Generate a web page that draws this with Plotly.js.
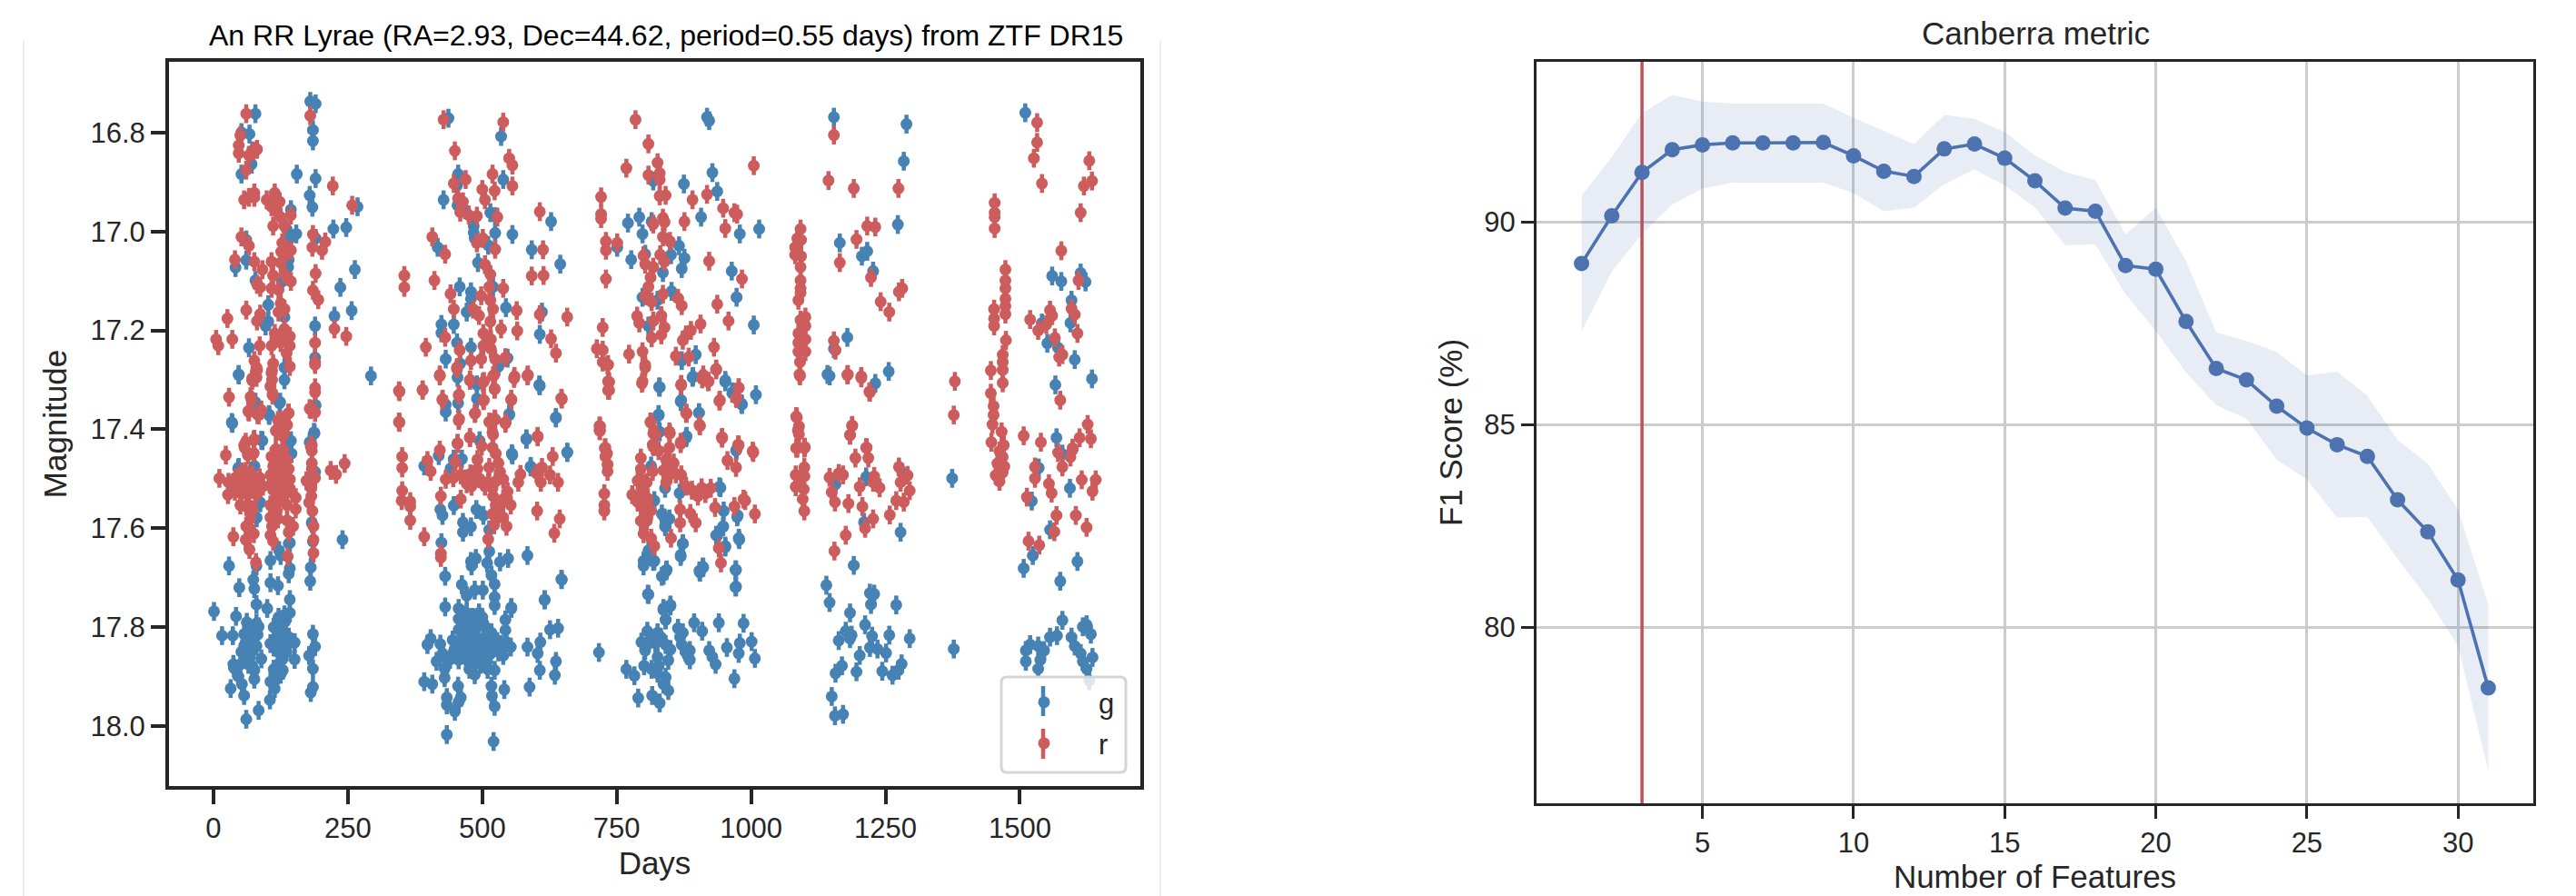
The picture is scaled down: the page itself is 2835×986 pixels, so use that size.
<!DOCTYPE html>
<html><head><meta charset="utf-8">
<script src="https://cdn.plot.ly/plotly-3.0.1.min.js"></script>
<style>html,body{margin:0;padding:0;background:#fff}#c{width:2835px;height:986px}</style>
</head><body><div id="c"></div>
<script>
// ---------- Light curve: [days, magnitude] ----------
const gSeason1 = [[180,16.737],[190,16.742],[78,16.762],[52,16.8],[67,16.803],[185,16.795],[185,16.817],[72,16.837],[71,16.864],[52,16.884],[155,16.884],[190,16.893],[179,16.927],[184,16.951],[268,16.95],[144,16.956],[223,16.995],[247,16.992],[136,16.995],[154,17.005],[140,17.017],[190,17.014],[61,17.017],[61,17.058],[41,17.073],[140,17.057],[139,17.072],[263,17.077],[78,17.099],[127,17.102],[236,17.113],[102,17.148],[257,17.16],[132,17.173],[225,17.171],[102,17.182],[97,17.191],[189,17.191],[66,17.235],[189,17.255],[132,17.275],[47,17.29],[132,17.3],[293,17.292],[76,17.35],[123,17.347],[189,17.353],[35,17.388],[104,17.372],[188,17.408],[179,17.426],[91,17.423],[144,17.423],[46,17.479],[76,17.475],[87,17.548],[80,17.579],[185,17.488],[240,17.623],[183,17.59],[185,17.627],[140,17.631],[106,17.665],[125,17.655],[29,17.676],[80,17.676],[181,17.679],[142,17.681],[140,17.692],[74,17.704],[106,17.71],[120,17.716],[180,17.707],[76,17.722],[48,17.72],[142,17.744],[80,17.754],[100,17.762],[1,17.768],[142,17.771],[42,17.778],[121,17.78],[80,17.792],[133,17.789],[16,17.817],[36,17.817],[185,17.814],[57,17.814],[84,17.799],[125,17.805],[69,17.823],[117,17.823],[140,17.82],[151,17.831],[189,17.839],[106,17.833],[57,17.838],[80,17.838],[129,17.838],[178,17.857],[65,17.853],[136,17.85],[89,17.864],[151,17.865],[37,17.875],[65,17.875],[185,17.884],[129,17.887],[76,17.887],[38,17.882],[46,17.899],[76,17.905],[106,17.91],[117,17.905],[53,17.915],[32,17.924],[114,17.924],[185,17.921],[181,17.932],[57,17.938],[105,17.947],[84,17.968],[61,17.986],[47,17.289],[78,17.345],[124,17.345],[103,17.37],[34,17.386],[89,17.422],[180,17.426],[187,17.406],[190,17.351],[142,17.424],[145,17.449],[47,17.477],[76,17.474],[189,17.486],[86,17.548],[80,17.578],[183,17.588],[142,17.629],[122,17.645],
 [62,17.79],[70,17.805],[75,17.82],[60,17.83],[72,17.845],[68,17.86],[82,17.815],[52,17.85],[58,17.865],[73,17.88],[50,17.875],[112,17.8],[120,17.81],[130,17.79],[135,17.815],[112,17.84],[120,17.85],[128,17.865],[120,17.875],[112,17.885],[138,17.835],[125,17.895],[132,17.775]];
const gSeason2 = [[437,16.771],[535,16.808],[455,16.884],[539,16.895],[453,16.907],[428,16.936],[454,16.947],[468,16.956],[515,16.962],[524,16.97],[628,16.98],[484,16.989],[484,17.002],[524,17.003],[556,17.006],[486,17.014],[511,17.028],[592,17.037],[417,17.032],[492,17.063],[645,17.066],[458,17.112],[479,17.122],[520,17.112],[479,17.136],[544,17.154],[471,17.163],[611,17.163],[447,17.188],[424,17.188],[424,17.205],[607,17.208],[453,17.225],[479,17.234],[432,17.258],[459,17.267],[547,17.256],[530,17.273],[454,17.295],[490,17.31],[607,17.312],[455,17.347],[432,17.35],[490,17.338],[432,17.365],[550,17.371],[637,17.377],[582,17.42],[495,17.423],[392,17.474],[419,17.453],[447,17.46],[556,17.452],[441,17.479],[462,17.46],[658,17.447],[590,17.476],[422,17.562],[426,17.574],[447,17.554],[464,17.588],[489,17.562],[502,17.574],[479,17.597],[464,17.608],[513,17.603],[424,17.629],[584,17.655],[513,17.647],[479,17.667],[488,17.661],[480,17.676],[509,17.67],[533,17.668],[548,17.661],[431,17.697],[648,17.704],[517,17.695],[462,17.714],[486,17.725],[501,17.725],[523,17.713],[471,17.736],[523,17.739],[616,17.745],[431,17.759],[456,17.762],[523,17.756],[554,17.762],[471,17.771],[494,17.771],[543,17.785],[456,17.783],[479,17.789],[502,17.792],[641,17.802],[626,17.805],[456,17.805],[404,17.823],[543,17.806],[517,17.811],[486,17.811],[422,17.834],[398,17.835],[445,17.826],[471,17.829],[502,17.823],[528,17.829],[608,17.83],[584,17.84],[553,17.84],[456,17.847],[479,17.844],[505,17.847],[539,17.857],[603,17.853],[426,17.853],[415,17.869],[456,17.866],[486,17.866],[509,17.869],[637,17.869],[523,17.887],[430,17.884],[607,17.887],[486,17.896],[635,17.897],[430,17.902],[392,17.91],[407,17.915],[588,17.921],[455,17.919],[517,17.919],[541,17.926],[434,17.942],[518,17.939],[460,17.942],[456,17.951],[434,17.957],[523,17.96],[449,17.97],[434,18.017],[521,18.031],[606,17.31],[550,17.369],[637,17.376],[582,17.419],[555,17.449],[658,17.446],[590,17.475],[647,17.703],[616,17.744],[554,17.76],
 [464,17.775],[470,17.8],[482,17.78],[490,17.8],[464,17.82],[476,17.825],[492,17.83],[510,17.81],[518,17.835],[466,17.84],[486,17.845],[498,17.855],[514,17.855],[530,17.85],[470,17.865],[497,17.875],[510,17.885],[476,17.885],[462,17.855],[535,17.835],[545,17.83],[500,17.78],[448,17.845],[440,17.865]];
const gSeason3 = [[918,16.769],[922,16.776],[928,16.881],[818,16.898],[875,16.904],[937,16.919],[907,16.971],[771,16.983],[792,16.971],[815,16.98],[798,17.005],[979,17.005],[1015,16.995],[751,17.032],[866,17.029],[777,17.057],[803,17.046],[851,17.047],[876,17.054],[871,17.075],[836,17.083],[964,17.08],[798,17.133],[852,17.121],[826,17.139],[973,17.133],[1005,17.189],[809,17.191],[897,17.249],[871,17.261],[891,17.295],[952,17.304],[830,17.315],[965,17.327],[1009,17.33],[869,17.344],[983,17.35],[903,17.367],[828,17.372],[830,17.405],[879,17.417],[973,17.441],[829,17.314],[892,17.293],[952,17.301],[966,17.324],[870,17.341],[982,17.348],[903,17.366],[828,17.37],[880,17.414],[972,17.443],[814,17.474],[840,17.519],[867,17.529],[941,17.516],[820,17.544],[834,17.571],[848,17.581],[840,17.596],[949,17.565],[975,17.574],[948,17.596],[935,17.614],[977,17.62],[952,17.636],[873,17.631],[869,17.654],[809,17.645],[800,17.666],[820,17.666],[843,17.684],[834,17.697],[910,17.678],[904,17.686],[972,17.684],[972,17.718],[808,17.733],[837,17.762],[850,17.755],[841,17.785],[717,17.851],[768,17.885],[783,17.898],[790,17.943],[801,17.878],[796,17.83],[807,17.808],[826,17.811],[809,17.734],[837,17.765],[850,17.757],[841,17.785],[864,17.802],[873,17.811],[894,17.791],[909,17.808],[940,17.791],[986,17.792],[803,17.847],[822,17.832],[841,17.835],[871,17.835],[886,17.847],[922,17.847],[955,17.841],[979,17.832],[1001,17.829],[1007,17.863],[826,17.86],[846,17.867],[882,17.857],[928,17.86],[934,17.875],[826,17.893],[841,17.901],[969,17.904],[816,17.938],[846,17.928],[830,17.953],[837,17.915],[828,17.878],[977,17.853],[886,17.866],[800,17.676],[818,17.667],[837,17.695],[842,17.686],[905,17.689],[911,17.679],[971,17.684],[971,17.719],[869,17.657],[873,17.631],[952,17.638],[978,17.623],[937,17.615],[948,17.597],[974,17.577],[839,17.579],[841,17.597],[943,17.518],
 [812,17.825],[832,17.82],[815,17.885],[850,17.845],[878,17.85],[868,17.82]];
const gSeason4 = [[1154,16.769],[1289,16.783],[1284,16.858],[1273,16.986],[1165,17.023],[1216,17.04],[1206,17.05],[1227,17.08],[1179,17.214],[1154,17.237],[1146,17.292],[1142,17.289],[1256,17.283],[1231,17.307],[1374,17.499],[1377,17.844],[1214,17.496],[1281,17.487],[1157,17.511],[1210,17.588],[1278,17.608],[1191,17.675],[1140,17.715],[1146,17.75],[1221,17.731],[1229,17.733],[1223,17.754],[1270,17.755],[1184,17.771],[1212,17.795],[1176,17.808],[1187,17.816],[1163,17.827],[1184,17.823],[1225,17.818],[1257,17.816],[1295,17.823],[1202,17.857],[1221,17.841],[1235,17.844],[1251,17.852],[1169,17.878],[1157,17.893],[1196,17.89],[1244,17.889],[1280,17.874],[1274,17.887],[1263,17.897],[1150,17.94],[1171,17.976],[1156,17.979]];
const gSeason5 = [[1510,16.76],[1560,17.09],[1577,17.101],[1613,17.084],[1622,17.102],[1596,17.139],[1594,17.185],[1541,17.185],[1551,17.226],[1571,17.235],[1602,17.259],[1634,17.298],[1566,17.31],[1568,17.417],[1579,17.45],[1535,17.478],[1522,17.545],[1593,17.519],[1556,17.603],[1524,17.655],[1607,17.667],[1507,17.681],[1575,17.707],[1579,17.786],[1617,17.799],[1624,17.795],[1632,17.814],[1596,17.82],[1569,17.817],[1556,17.82],[1519,17.835],[1534,17.838],[1511,17.847],[1545,17.847],[1602,17.838],[1613,17.853],[1635,17.861],[1511,17.869],[1538,17.866],[1617,17.869],[1534,17.884],[1624,17.884],[1629,17.908]];
const rSeason1 = [[61,16.762],[180,16.766],[50,16.806],[47,16.826],[47,16.842],[81,16.834],[74,16.838],[66,16.846],[61,16.876],[57,16.936],[66,16.931],[76,16.922],[76,16.931],[114,16.922],[99,16.936],[108,16.95],[123,16.94],[117,16.959],[144,16.967],[125,16.971],[111,16.989],[132,16.989],[128,17.023],[144,17.038],[126,17.041],[136,17.041],[52,17.011],[66,17.029],[40,17.057],[76,17.061],[108,17.061],[125,17.063],[91,17.077],[111,17.089],[132,17.087],[144,17.101],[81,17.107],[87,17.113],[108,17.115],[121,17.118],[185,17.006],[184,17.032],[208,17.021],[202,17.038],[190,17.085],[185,17.119],[195,17.138],[222,16.908],[258,16.947],[125,17.145],[132,17.157],[121,17.163],[61,17.159],[87,17.167],[81,17.181],[26,17.176],[5,17.218],[9,17.231],[35,17.218],[86,17.231],[108,17.231],[114,17.206],[132,17.197],[142,17.212],[125,17.225],[142,17.231],[136,17.246],[76,17.261],[81,17.28],[142,17.273],[111,17.267],[108,17.286],[80,17.295],[72,17.301],[106,17.313],[189,17.225],[189,17.265],[189,17.316],[189,17.325],[225,17.197],[247,17.212],[29,17.335],[71,17.341],[110,17.331],[66,17.365],[84,17.371],[139,17.368],[181,17.36],[189,17.366],[125,17.383],[135,17.39],[117,17.402],[132,17.408],[57,17.432],[76,17.42],[181,17.435],[80,17.275],[72,17.297],[109,17.281],[109,17.3],[110,17.327],[189,17.269],[69,17.334],[65,17.363],[82,17.37],[89,17.361],[140,17.367],[179,17.358],[120,17.382],[137,17.391],[116,17.403],[128,17.413],[60,17.426],[75,17.422],[58,17.437],[75,17.448],[64,17.452],[23,17.452],[183,17.432],[183,17.443],[183,17.468],[183,17.48],[108,17.455],[123,17.449],[137,17.461],[111,17.474],[125,17.471],[140,17.48],[106,17.492],[120,17.489],[134,17.495],[142,17.501],[109,17.507],[124,17.51],[137,17.513],[111,17.523],[128,17.526],[142,17.519],[117,17.538],[11,17.499],[28,17.507],[27,17.532],[41,17.498],[52,17.486],[47,17.513],[61,17.501],[72,17.492],[86,17.498],[55,17.516],[69,17.513],[80,17.507],[80,17.532],[50,17.553],[61,17.556],[73,17.562],[69,17.581],[61,17.596],[75,17.611],[37,17.617],[60,17.623],[67,17.643],[79,17.669],[173,17.504],[189,17.498],[182,17.519],[182,17.535],[178,17.548],[184,17.565],[186,17.596],[186,17.623],[186,17.65],[153,17.538],[153,17.561],[137,17.553],[148,17.596],[140,17.608],[106,17.553],[106,17.578],[109,17.596],[106,17.614],[111,17.626],[120,17.581],[137,17.584],[138,17.657],[218,17.483],[228,17.491],[244,17.469],
 [116,17.44],[130,17.44],[116,17.465],[132,17.48],[115,17.5],[128,17.5],[116,17.515],[134,17.53],[122,17.545],[36,17.51],[60,17.485],[92,17.515],[40,17.525],[66,17.53],[52,17.53],[112,17.56],[118,17.565]];
const rSeason2 = [[345,17.322],[389,17.32],[345,17.385],[351,17.455],[351,17.478],[351,17.524],[350,17.544],[366,17.546],[366,17.556],[366,17.584],[392,17.617],[423,17.651],[423,17.659],[398,17.463],[404,17.485],[421,17.442],[426,17.339],[457,17.33],[421,17.29],[457,17.379],[453,17.275],[477,17.3],[454,17.428],[477,17.416],[450,17.466],[432,17.501],[423,17.535],[460,17.541],[446,17.498],[460,17.492],[471,17.501],[471,17.51],[428,16.774],[539,16.779],[449,16.837],[550,16.852],[556,16.866],[469,16.895],[519,16.884],[447,16.903],[556,16.908],[500,16.915],[523,16.918],[455,16.933],[464,16.94],[505,16.936],[607,16.96],[459,16.961],[475,16.967],[490,16.969],[528,16.971],[407,17.011],[431,17.046],[501,17.014],[490,17.023],[524,17.036],[613,17.037],[505,17.067],[515,17.087],[355,17.089],[411,17.099],[592,17.09],[614,17.089],[355,17.113],[441,17.126],[539,17.115],[513,17.112],[498,17.13],[447,17.157],[483,17.157],[515,17.139],[520,17.157],[564,17.16],[607,17.168],[658,17.173],[494,17.17],[515,17.182],[535,17.197],[565,17.201],[502,17.206],[431,17.214],[516,17.218],[628,17.217],[395,17.234],[458,17.24],[502,17.231],[516,17.237],[637,17.246],[479,17.261],[498,17.258],[524,17.258],[543,17.255],[453,17.278],[421,17.292],[477,17.301],[501,17.305],[520,17.292],[559,17.297],[584,17.292],[389,17.321],[346,17.324],[523,17.319],[426,17.341],[456,17.331],[502,17.342],[554,17.341],[648,17.339],[486,17.368],[456,17.382],[346,17.386],[517,17.386],[543,17.388],[524,17.38],[477,17.417],[454,17.429],[520,17.411],[603,17.415],[522,17.29],[560,17.293],[585,17.29],[503,17.303],[523,17.318],[503,17.341],[554,17.339],[647,17.337],[487,17.367],[513,17.385],[523,17.379],[543,17.386],[519,17.406],[603,17.414],[499,17.434],[519,17.437],[525,17.449],[631,17.455],[491,17.461],[530,17.468],[611,17.477],[491,17.48],[513,17.477],[571,17.491],[601,17.489],[626,17.492],[533,17.486],[609,17.507],[567,17.507],[641,17.507],[539,17.501],[488,17.498],[511,17.507],[519,17.519],[547,17.526],[553,17.553],[539,17.541],[525,17.553],[602,17.565],[644,17.581],[634,17.61],[539,17.578],[545,17.596],[522,17.593],[511,17.622],[530,17.571],[519,17.571],
 [470,17.5],[480,17.515],[495,17.5],[505,17.515],[478,17.49],[525,17.505],[520,17.535],[530,17.555]];
const rSeason3 = [[734,17.269],[734,17.303],[734,17.321],[719,17.394],[719,17.403],[729,17.437],[732,17.449],[729,17.455],[733,17.471],[733,17.485],[727,17.53],[727,17.553],[727,17.565],[798,17.303],[803,17.275],[870,17.309],[911,17.29],[921,17.303],[935,17.278],[942,17.341],[972,17.336],[977,17.316],[879,17.367],[904,17.391],[946,17.416],[976,17.431],[956,17.463],[972,17.477],[813,17.385],[823,17.41],[848,17.405],[869,17.426],[817,17.431],[828,17.443],[848,17.437],[795,17.458],[842,17.461],[856,17.468],[795,17.48],[817,17.485],[837,17.483],[870,17.492],[789,17.504],[806,17.507],[842,17.507],[879,17.515],[890,17.523],[908,17.518],[925,17.519],[779,17.532],[797,17.529],[901,17.535],[789,17.547],[814,17.564],[868,17.562],[887,17.57],[897,17.589],[868,17.589],[933,17.558],[969,17.556],[986,17.541],[795,17.585],[800,17.611],[814,17.62],[820,17.636],[851,17.62],[940,17.64],[944,17.67],[785,16.774],[809,16.823],[768,16.872],[826,16.861],[830,16.882],[809,16.886],[830,16.895],[721,16.93],[1005,16.867],[830,16.928],[841,16.927],[918,16.925],[891,16.936],[721,16.965],[721,16.974],[948,16.953],[969,16.962],[974,16.965],[836,16.973],[818,16.985],[839,16.981],[876,16.98],[952,16.994],[836,17.011],[849,17.02],[730,17.02],[751,17.023],[730,17.038],[800,17.049],[831,17.047],[803,17.066],[818,17.072],[839,17.061],[922,17.06],[813,17.093],[730,17.096],[983,17.096],[809,17.112],[803,17.13],[836,17.127],[864,17.135],[815,17.142],[871,17.15],[937,17.147],[788,17.171],[833,17.17],[724,17.194],[792,17.185],[818,17.181],[839,17.194],[906,17.187],[958,17.181],[888,17.2],[879,17.209],[833,17.209],[815,17.215],[873,17.22],[931,17.234],[713,17.237],[724,17.24],[773,17.248],[798,17.243],[860,17.252],[884,17.254],[724,17.264],[733,17.27],[803,17.27],[935,17.28],[736,17.304],[797,17.307],[870,17.311],[909,17.298],[920,17.304],[977,17.316],[736,17.321],[973,17.338],[941,17.343],[880,17.368],[718,17.393],[813,17.386],[905,17.393],[718,17.402],[849,17.408],[818,17.408],[946,17.418],[977,17.432],[869,17.429],[728,17.438],[818,17.435],[1003,17.444],
 [795,17.5],[800,17.52],[808,17.54],[800,17.56],[806,17.585],[845,17.475],[850,17.49],[860,17.49],[915,17.53]];
const rSeason4 = [[1092,16.995],[1086,17.014],[1093,17.017],[1082,17.032],[1082,17.047],[1093,17.05],[1092,17.072],[1092,17.099],[1092,17.115],[1092,17.124],[1088,17.139],[1101,17.173],[1092,17.179],[1101,17.191],[1088,17.206],[1101,17.218],[1088,17.225],[1088,17.243],[1101,17.243],[1091,17.264],[1091,17.292],[1084,17.374],[1087,17.402],[1086,17.438],[1099,17.438],[1090,17.289],[1085,17.376],[1089,17.394],[1089,17.41],[1084,17.438],[1100,17.436],[1099,17.477],[1083,17.492],[1099,17.495],[1083,17.516],[1098,17.521],[1089,17.507],[1096,17.541],[1099,17.565],[1004,17.447],[1007,17.571],[989,17.544],[1180,17.289],[1205,17.293],[1220,17.324],[1188,17.392],[1184,17.411],[1215,17.437],[1218,17.458],[1194,17.458],[1146,17.497],[1163,17.489],[1171,17.492],[1275,17.476],[1291,17.493],[1229,17.495],[1202,17.516],[1239,17.518],[1227,17.507],[1278,17.507],[1295,17.524],[1150,17.527],[1156,17.547],[1181,17.55],[1207,17.556],[1270,17.544],[1284,17.547],[1227,17.581],[1258,17.573],[1212,17.6],[1176,17.614],[1155,17.646],[1154,16.805],[1144,16.897],[1191,16.913],[1274,16.913],[1216,16.989],[1231,16.991],[1196,17.016],[1165,17.063],[1223,17.093],[1281,17.115],[1275,17.122],[1241,17.142],[1257,17.163],[1154,17.221],[1157,17.24],[1179,17.29],[1205,17.296],[1221,17.325],[1188,17.393],[1184,17.412],[1214,17.437],[1379,17.303],[1377,17.371]];
const rSeason5 = [[1532,16.78],[1532,16.82],[1526,16.852],[1541,16.903],[1629,16.857],[1634,16.898],[1619,16.908],[1613,16.962],[1453,16.942],[1453,16.962],[1453,16.971],[1453,16.994],[1577,17.039],[1473,17.077],[1473,17.099],[1473,17.115],[1609,17.099],[1473,17.136],[1473,17.151],[1473,17.167],[1452,17.157],[1452,17.176],[1452,17.191],[1596,17.156],[1602,17.168],[1556,17.159],[1560,17.17],[1519,17.178],[1549,17.188],[1534,17.2],[1607,17.206],[1565,17.215],[1474,17.22],[1468,17.249],[1579,17.249],[1573,17.254],[1468,17.264],[1468,17.28],[1446,17.281],[1468,17.306],[1446,17.327],[1575,17.341],[1451,17.353],[1451,17.371],[1449,17.39],[1626,17.39],[1466,17.405],[1507,17.413],[1611,17.417],[1632,17.419],[1539,17.426],[1447,17.426],[1470,17.432],[1598,17.438],[1571,17.447],[1455,17.493],[1468,17.487],[1462,17.505],[1458,17.469],[1468,17.456],[1471,17.475],[1462,17.444],[1528,17.476],[1528,17.499],[1579,17.476],[1594,17.456],[1598,17.441],[1554,17.51],[1559,17.529],[1615,17.502],[1641,17.502],[1635,17.525],[1513,17.537],[1568,17.574],[1604,17.574],[1624,17.598],[1564,17.607],[1516,17.626],[1536,17.634]];
const magError = 0.019;
const dayTicks = [0,250,500,750,1000,1250,1500];
const magTicks = [16.8,17.0,17.2,17.4,17.6,17.8,18.0];

// ---------- Canberra metric ----------
const nFeatures = [1,2,3,4,5,6,7,8,9,10,11,12,13,14,15,16,17,18,19,20,21,22,23,24,25,26,27,28,29,30,31];
const f1Mean  = [88.97,90.15,91.22,91.78,91.90,91.95,91.95,91.95,91.96,91.63,91.25,91.12,91.80,91.92,91.57,91.01,90.34,90.26,88.92,88.83,87.54,86.38,86.10,85.45,84.91,84.50,84.21,83.14,82.35,81.16,78.50];
const f1Upper = [90.65,91.60,92.69,93.13,92.97,92.92,92.92,92.92,92.92,92.57,92.24,91.92,92.64,92.54,92.22,91.64,91.23,91.03,89.69,90.35,89.03,87.28,87.06,86.79,86.21,86.30,85.71,84.62,84.03,82.90,80.55];
const f1Lower = [87.30,88.77,89.70,90.43,90.82,90.97,90.97,90.97,90.97,90.71,90.26,90.35,90.93,91.29,90.90,90.36,89.42,89.45,88.21,87.31,86.28,85.47,85.14,84.13,83.64,82.70,82.72,81.68,80.70,79.53,76.46];
const selectedFeatures = 3;
const featureTicks = [5,10,15,20,25,30];
const f1Ticks = [80,85,90];
const f1Range = [75.65,93.95];

const W = 2835, H = 986;
const px = v => v / W, py = v => 1 - v / H;
const TXT = '#262626', FONT = '"Liberation Sans", Arial, sans-serif';
const gPts = [].concat(gSeason1, gSeason2, gSeason3, gSeason4, gSeason5);
const rPts = [].concat(rSeason1, rSeason2, rSeason3, rSeason4, rSeason5);

function lc(name, pts, color) {
  return {type:'scatter', mode:'markers', name, xaxis:'x', yaxis:'y', legendgroup:name,
    x: pts.map(p => p[0]), y: pts.map(p => p[1]),
    marker:{color, size:13, line:{width:0}},
    error_y:{type:'constant', value:magError, color, thickness:4.5, width:0}};
}
const BLUE = '#4c72b0', RED = '#c44e52', G = '#4682b4', R = '#cd5c5c';
const traces = [
  lc('g', gPts, G), lc('r', rPts, R),
  {type:'scatter', mode:'lines', x:[selectedFeatures,selectedFeatures], y:f1Range, xaxis:'x2', yaxis:'y2', line:{color:RED, width:3.5}, showlegend:false, hoverinfo:'skip'},
  {type:'scatter', mode:'lines', x:nFeatures, y:f1Upper, xaxis:'x2', yaxis:'y2', line:{width:0}, showlegend:false, hoverinfo:'skip'},
  {type:'scatter', mode:'lines', x:nFeatures, y:f1Lower, xaxis:'x2', yaxis:'y2', line:{width:0}, fill:'tonexty', fillcolor:'rgba(76,114,176,0.13)', showlegend:false, hoverinfo:'skip'},
  {type:'scatter', mode:'lines+markers', x:nFeatures, y:f1Mean, xaxis:'x2', yaxis:'y2', showlegend:false,
   line:{color:BLUE, width:3.6}, marker:{color:BLUE, size:17}}
];

function roundedBox(x0, y0, x1, y1, r) {
  const rx = r / W, ry = r / H;
  const a = px(x0), b = px(x1), t = py(y0), u = py(y1);
  return `M${a+rx},${t} L${b-rx},${t} Q${b},${t} ${b},${t-ry} L${b},${u+ry} Q${b},${u} ${b-rx},${u} L${a+rx},${u} Q${a},${u} ${a},${u+ry} L${a},${t-ry} Q${a},${t} ${a+rx},${t} Z`;
}
const paperLine = (x0,y0,x1,y1,color,width) => ({type:'line', xref:'paper', yref:'paper', layer:'above',
  x0:px(x0), x1:px(x1), y0:py(y0), y1:py(y1), line:{color,width}});

const axisBase = {showline:true, mirror:true, ticks:'outside', zeroline:false, color:TXT,
  tickfont:{family:FONT, size:31, color:TXT}};

const layout = {
  width:W, height:H, margin:{l:0,r:0,t:0,b:0}, paper_bgcolor:'#fff', plot_bgcolor:'#fff',
  font:{family:FONT, color:TXT},
  xaxis:{...axisBase, domain:[px(186),px(1255)], range:[-82.7,1724], tickvals:dayTicks, showgrid:false,
    linewidth:4, linecolor:TXT, ticklen:16, tickwidth:4, tickcolor:TXT, anchor:'y',
    title:{text:'Days', font:{family:FONT,size:35,color:TXT}, standoff:10}},
  yaxis:{...axisBase, domain:[py(865),py(68)], range:[18.121,16.657], tickvals:magTicks, tickformat:'.1f', showgrid:false,
    linewidth:4, linecolor:TXT, ticklen:16, tickwidth:4, tickcolor:TXT, anchor:'x',
    title:{text:'Magnitude', font:{family:FONT,size:35,color:TXT}, standoff:16}},
  xaxis2:{...axisBase, domain:[px(1691),px(2788)], range:[-0.49,32.49], tickvals:featureTicks, showgrid:true,
    gridcolor:'#cccccc', gridwidth:3, linewidth:3, linecolor:TXT, ticklen:14, tickwidth:3, tickcolor:TXT, anchor:'y2',
    title:{text:'Number of Features', font:{family:FONT,size:35,color:TXT}, standoff:5}},
  yaxis2:{...axisBase, domain:[py(884),py(68)], range:f1Range, tickvals:f1Ticks, showgrid:true,
    gridcolor:'#cccccc', gridwidth:3, linewidth:3, linecolor:TXT, ticklen:14, tickwidth:3, tickcolor:TXT, anchor:'x2',
    title:{text:'F1 Score (%)', font:{family:FONT,size:35,color:TXT}, standoff:14}},
  annotations:[
    {xref:'paper',yref:'paper',x:px(733),y:py(39),xanchor:'center',yanchor:'middle',text:'An RR Lyrae (RA=2.93, Dec=44.62, period=0.55 days) from ZTF DR15',showarrow:false,font:{family:FONT,size:32,color:'#000'}},
    {xref:'paper',yref:'paper',x:px(2240),y:py(37),xanchor:'center',yanchor:'middle',text:'Canberra metric',showarrow:false,font:{family:FONT,size:35,color:TXT}}
  ],
  shapes:[
    paperLine(26,45,26,986,'#dddddd',1),
    paperLine(1277,45,1277,986,'#dddddd',1),
    {type:'path', xref:'paper', yref:'paper', layer:'above', path:roundedBox(1102,745,1239,850,6),
      fillcolor:'rgba(255,255,255,0.8)', line:{color:'#d5d5d5', width:3}},
    paperLine(1148,755,1148,788,G,4.5),
    paperLine(1148,802,1148,835,R,4.5)
  ],
  legend:{x:px(1089), y:py(746), xanchor:'left', yanchor:'top', bgcolor:'rgba(0,0,0,0)', borderwidth:0,
    font:{family:FONT,size:31,color:TXT}, itemwidth:110, tracegroupgap:2, traceorder:'grouped', itemclick:false, itemdoubleclick:false},
  showlegend:true
};
Plotly.newPlot('c', traces, layout, {displayModeBar:false, staticPlot:true});
</script></body></html>
